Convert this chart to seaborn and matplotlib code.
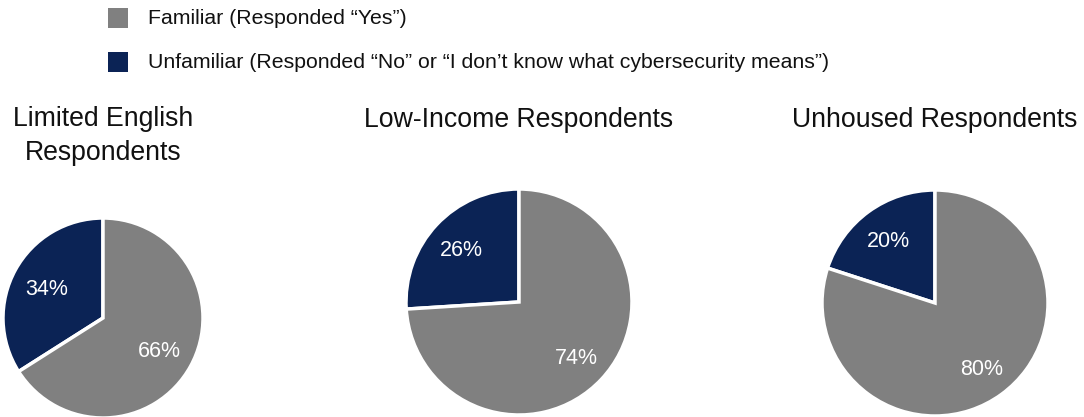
import matplotlib
matplotlib.use("Agg")
import matplotlib.pyplot as plt
from matplotlib.patches import Rectangle
import seaborn as sns

sns.set_theme(style="white")
plt.rcParams["font.family"] = ["Liberation Sans", "DejaVu Sans"]

# Survey results: share of each group familiar / unfamiliar with cybersecurity
groups = ["Limited English\nRespondents", "Low-Income Respondents", "Unhoused Respondents"]
unfamiliar = [34, 26, 20]
familiar = [66, 74, 80]
legend_labels = ["Familiar (Responded \u201cYes\u201d)",
                 "Unfamiliar (Responded \u201cNo\u201d or \u201cI don\u2019t know what cybersecurity means\u201d)"]

colors = {"familiar": "#808080", "unfamiliar": "#0b2355"}

W, H = 1084, 417
fig = plt.figure(figsize=(W / 100, H / 100), dpi=100)

# pie placement in pixels: centre x, centre y (from top), radius
layout = [(103, 318, 100), (519, 302, 113), (935, 303, 113)]
pct_dist = [0.64, 0.70, 0.70]
title_y = [136, 120, 120]

for i, (grp, u, f) in enumerate(zip(groups, unfamiliar, familiar)):
    cx, cy, r = layout[i]
    ax = fig.add_axes([(cx - r) / W, (H - cy - r) / H, 2 * r / W, 2 * r / H])
    _, _, autotexts = ax.pie(
        [u, f], colors=[colors["unfamiliar"], colors["familiar"]],
        startangle=90, counterclock=True,
        autopct=lambda p: f"{p:.0f}%", pctdistance=pct_dist[i],
        textprops=dict(color="white", fontsize=15.5),
        wedgeprops=dict(edgecolor="white", linewidth=2.5))
    for t in autotexts:
        t.set_va("center_baseline")
    ax.set_xlim(-1, 1)
    ax.set_ylim(-1, 1)
    ax.set_aspect("equal")
    ax.axis("off")
    fig.text(cx / W, 1 - title_y[i] / H, grp, ha="center", va="center",
             fontsize=19.2, color="#111111", linespacing=1.38)

# legend with square markers
for j, (lab, key) in enumerate(zip(legend_labels, ["familiar", "unfamiliar"])):
    y = 18 + j * 44
    fig.patches.append(Rectangle((108 / W, 1 - (y + 10) / H), 20 / W, 20 / H,
                                 transform=fig.transFigure, facecolor=colors[key],
                                 edgecolor="none"))
    fig.text(148 / W, 1 - y / H, lab, ha="left", va="center",
             fontsize=15.3, color="#111111")

fig.savefig("out.png", dpi=100, facecolor="white")
